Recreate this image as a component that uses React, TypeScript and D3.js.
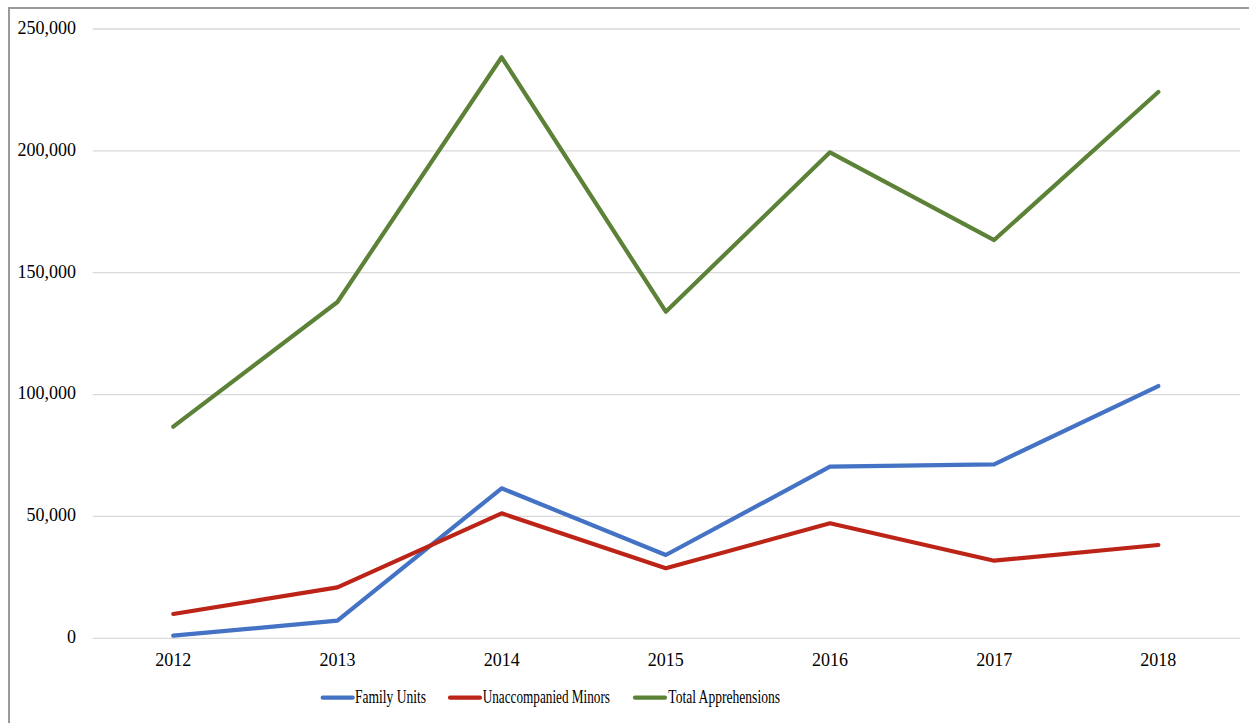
import React from "react";
import * as d3 from "d3";

const years = ["2012", "2013", "2014", "2015", "2016", "2017", "2018"];
const familyUnits = [1070, 7220, 61550, 34180, 70400, 71400, 103500];
const unaccompaniedMinors = [9970, 20920, 51290, 28720, 47180, 31840, 38280];
const totalApprehensions = [86820, 138000, 238400, 134000, 199400, 163400, 224150];
const yTicks = [0, 50000, 100000, 150000, 200000, 250000];

const seriesNames = ["Family Units", "Unaccompanied Minors", "Total Apprehensions"];
const seriesColors = ["#4472C4", "#BD2418", "#5B8236"];

export default function App() {
  const W = 1249, H = 723;
  const x = d3.scaleBand().domain(years).range([91.2, 1240.4]);
  const y = d3.scaleLinear().domain([0, 250000]).range([638.3, 29]);
  const cx = (d: string) => (x(d) as number) + x.bandwidth() / 2;
  const line = d3.line<number>().x((_, i) => cx(years[i])).y((v) => y(v));
  const all = [familyUnits, unaccompaniedMinors, totalApprehensions];
  const fmt = d3.format(",");
  const legend = [
    { lx: 322.7, tx: 355, tw: 71 },
    { lx: 450, tx: 482.7, tw: 127.3 },
    { lx: 635, tx: 668.3, tw: 111.7 },
  ];
  const font = "'Liberation Serif', 'Times New Roman', serif";
  return (
    <svg width={W} height={H} style={{ position: "absolute", left: 0, top: 0 }} fontFamily={font}>
      <rect x={0} y={0} width={W} height={H} fill="#ffffff" />
      <rect x={9} y={8} width={1300} height={800} fill="#ffffff" stroke="#9a9a9a" strokeWidth={2} />
      {yTicks.map((t) => (
        <g key={t}>
          <line x1={92.7} x2={1240} y1={y(t)} y2={y(t)} stroke="#d9d9d9" strokeWidth={1.3} />
          <text x={76} y={y(t) + 4.8} textAnchor="end" fontSize={18} fill="#000">
            {fmt(t)}
          </text>
        </g>
      ))}
      {years.map((yr) => (
        <text key={yr} x={cx(yr)} y={665.5} textAnchor="middle" fontSize={18} fill="#000">
          {yr}
        </text>
      ))}
      {all.map((s, i) => (
        <path key={i} d={line(s) as string} fill="none" stroke={seriesColors[i]} strokeWidth={4.2} strokeLinejoin="round" strokeLinecap="round" />
      ))}
      {seriesNames.map((n, i) => (
        <g key={n}>
          <line x1={legend[i].lx} x2={legend[i].lx + 30} y1={697.7} y2={697.7} stroke={seriesColors[i]} strokeWidth={4.2} strokeLinecap="round" />
          <text x={legend[i].tx} y={703} fontSize={18.5} fill="#000" textLength={legend[i].tw} lengthAdjust="spacingAndGlyphs">
            {n}
          </text>
        </g>
      ))}
    </svg>
  );
}
